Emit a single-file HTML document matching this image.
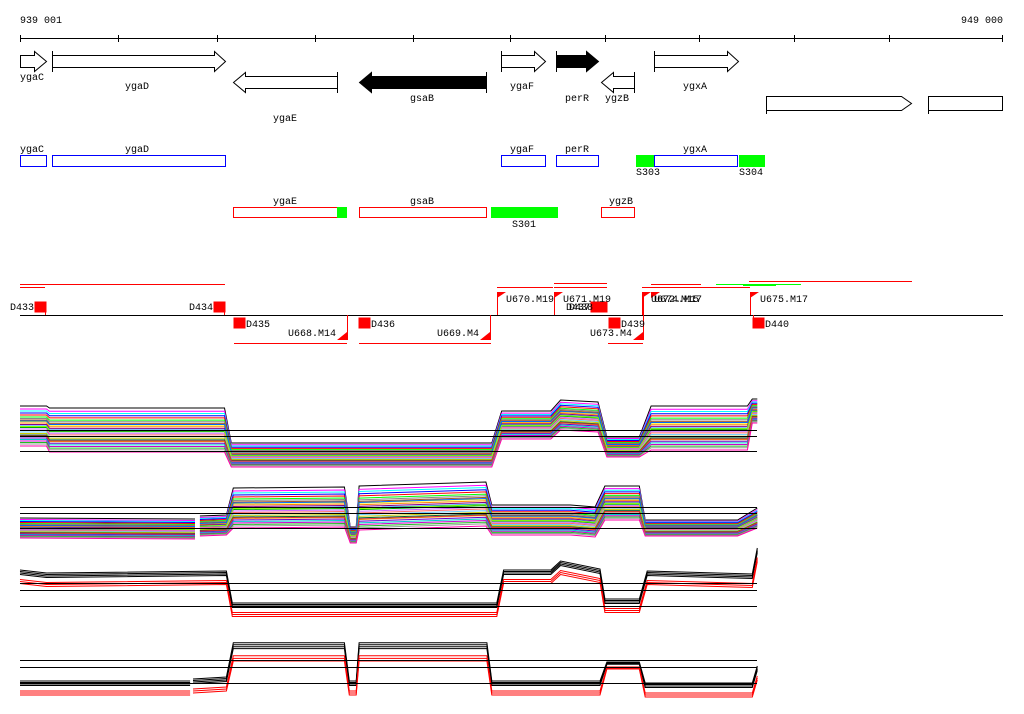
<!DOCTYPE html>
<html><head><meta charset="utf-8"><style>
html,body{margin:0;padding:0;background:#fff;}
svg{display:block;font-family:"Liberation Mono",monospace;font-size:10px;}
</style></head><body>
<svg id="main" width="1024" height="714" viewBox="0 0 1024 714">
<g stroke="#000" stroke-width="1">
<text x="20" y="23" stroke="none">939 001</text>
<text x="1003" y="23" stroke="none" text-anchor="end">949 000</text>
<line x1="20" y1="38.5" x2="1003" y2="38.5"/>
<path d="M20.5 35v7M118.5 35v7M217.5 35v7M315.5 35v7M413.5 35v7M510.5 35v7M605.5 35v7M699.5 35v7M794.5 35v7M889.5 35v7M1002.5 35v7"/>
</g>
<g stroke="#000" stroke-width="1" fill="#fff">
<path d="M20.5 55.5h14v-4l12 10l-12 10v-4h-14z"/>
<path d="M52.5 55.5h162v-4l11 10l-11 10v-4h-162zM52.5 51v21"/>
<path d="M501.5 55.5h33v-4l11 10l-11 10v-4h-33zM501.5 51v21"/>
<path fill="#000" d="M556.5 55.5h30v-4l12 10l-12 10v-4h-30zM556.5 51v21"/>
<path d="M654.5 55.5h73v-4l11 10l-11 10v-4h-73zM654.5 51v21"/>
<path d="M337.5 76.5h-92v-4l-12 10l12 10v-4h92zM337.5 72v21"/>
<path fill="#000" d="M486.5 76.5h-115v-4l-12 10l12 10v-4h115zM486.5 72v21"/>
<path d="M634.5 76.5h-21v-4l-12 10l12 10v-4h21zM634.5 72v21"/>
<path d="M766.5 96.5h135l10 7l-10 7h-135zM766.5 96v18"/>
<path d="M928.5 96.5h74v14h-74zM928.5 96v18"/>
</g>
<g>
<text x="20" y="80">ygaC</text><text x="125" y="89">ygaD</text><text x="273" y="121">ygaE</text>
<text x="410" y="101">gsaB</text><text x="510" y="89">ygaF</text><text x="565" y="101">perR</text>
<text x="605" y="101">ygzB</text><text x="683" y="89">ygxA</text>
</g>
<g stroke-width="1">
<g fill="none" stroke="#00f">
<rect x="20.5" y="155.5" width="26" height="11"/>
<rect x="52.5" y="155.5" width="173" height="11"/>
<rect x="501.5" y="155.5" width="44" height="11"/>
<rect x="556.5" y="155.5" width="42" height="11"/>
<rect x="654.5" y="155.5" width="83" height="11"/>
</g>
<rect x="636" y="155" width="18" height="12" fill="#0f0"/>
<rect x="739" y="155" width="26" height="12" fill="#0f0"/>
<text x="20" y="152">ygaC</text><text x="125" y="152">ygaD</text><text x="510" y="152">ygaF</text>
<text x="565" y="152">perR</text><text x="683" y="152">ygxA</text>
<text x="636" y="175">S303</text><text x="739" y="175">S304</text>
<g fill="none" stroke="#f00">
<rect x="233.5" y="207.5" width="104" height="10"/>
<rect x="359.5" y="207.5" width="127" height="10"/>
<rect x="601.5" y="207.5" width="33" height="10"/>
</g>
<rect x="337" y="207" width="10" height="11" fill="#0f0"/>
<rect x="491" y="207" width="67" height="11" fill="#0f0"/>
<text x="273" y="204">ygaE</text><text x="410" y="204">gsaB</text><text x="609" y="204">ygzB</text>
<text x="512" y="227">S301</text>
</g>
<g>
<path stroke="#f00" fill="none" d="M20 284.5h205M20 287.5h25M497 287.5h56M554 283.5h53M554 287.5h53M642 287.5h108M651 284.5h50M749 281.5h163M234 343.5h113M359 343.5h132M608 343.5h35"/>
<path stroke="#0f0" fill="none" d="M716 284.5h85M743 285.5h33"/>
<line x1="20" y1="315.5" x2="1003" y2="315.5" stroke="#000"/>
<g fill="#f00" stroke="#f00">
<rect x="35" y="302" width="11" height="10"/>
<rect x="214" y="302" width="11" height="10"/>
<rect x="234" y="318" width="11" height="10"/>
<rect x="359" y="318" width="11" height="10"/>
<rect x="591" y="302" width="16" height="10"/>
<rect x="609" y="318" width="11" height="10"/>
<rect x="753" y="318" width="11" height="10"/>
<path d="M45.5 302v13M224.5 302v13M347.5 315v25M490.5 315v25M497.5 292v23M554.5 292v23M643.5 292v48M642.5 292v23M750.5 292v23M753.5 315v5" fill="none"/>
<path d="M337 340h10v-8zM480 340h10v-8zM633 340h10v-8zM497 292h9l-9 6zM554 292h9l-9 6zM642 292h9l-9 6zM651 292h9l-9 6zM750 292h9l-9 6z" stroke="none"/>
</g>
<g fill="#000">
<text x="34" y="310" text-anchor="end">D433</text><text x="213" y="310" text-anchor="end">D434</text>
<text x="246" y="327">D435</text><text x="336" y="336" text-anchor="end">U668.M14</text>
<text x="371" y="327">D436</text><text x="479" y="336" text-anchor="end">U669.M4</text>
<text x="506" y="302">U670.M19</text><text x="563" y="302">U671.M19</text>
<text x="566" y="310">D437</text><text x="569" y="310">D438</text>
<text x="621" y="327">D439</text><text x="632" y="336" text-anchor="end">U673.M4</text>
<text x="651" y="302">U672.M15</text><text x="654" y="302">U674.M17</text>
<text x="760" y="302">U675.M17</text><text x="765" y="327">D440</text>
</g>
</g>
<g id="charts"></g>
</svg>
<script>
// positions in kb from left (939 001), levels in log-units, spread = per-point dispersion factor
const p1Pos = [0,0.27,0.3,2.08,2.15,4.8,4.9,5.4,5.5,5.88,5.97,6.3,6.42,7.4,7.45,7.5];
const p1Val = [2.5,2.5,2.1,2.1,-0.4,-0.4,2.6,2.6,3.6,3.4,0.4,0.4,2.3,2.3,4.0,4.0];
const p1Spr = [1.0,1.0,1.1,1.1,0.6,0.6,0.7,0.7,0.75,0.75,0.5,0.5,1.1,1.1,0.6,0.6];
const p2Pos = [0,1.78,null,1.83,2.1,2.17,3.3,3.36,3.42,3.45,4.74,4.8,5.6,5.85,5.95,6.3,6.36,7.3,7.5];
const p2Val = [0.0,-0.1,null,0.2,0.3,2.0,2.1,-0.7,-0.7,2.0,2.4,0.8,0.8,0.6,2.5,2.5,0.0,0.0,1.0];
const p2Spr = [0.5,0.5,null,0.5,0.5,1.0,1.0,0.4,0.4,1.1,1.1,0.75,0.75,0.75,0.85,0.85,0.4,0.4,0.5];
const p3Pos = [0,0.27,2.1,2.16,4.85,4.92,5.4,5.5,5.9,5.95,6.3,6.38,7.45,7.5];
const p3Val = [3.0,2.7,2.9,-0.3,-0.3,3.0,3.0,3.9,3.1,0.1,0.1,2.9,2.6,5.2];
const p3Spr = [1,1,1,1,1,1,1,1,1,1,1,1,1,1];
const p4Pos = [0,1.73,null,1.76,2.1,2.17,3.3,3.35,3.42,3.45,4.75,4.8,5.9,5.97,6.3,6.36,7.45,7.5];
const p4Val = [-0.2,-0.2,null,0.0,0.2,3.5,3.5,-0.2,-0.2,3.5,3.5,-0.2,-0.2,1.9,1.9,-0.4,-0.4,1.3];
const p4Spr = [1,1,null,1,1,1.3,1.3,1,1,1.3,1.3,1,1,0.5,0.5,1,1,1];
const multiColors = ["#000","#f0f","#0ff","#00f","#f00","#0f0","#888","#a52","#ff0","#f80","#808","#08f","#0a0","#c6f","#f66","#6cf","#cc0","#063","#fa0","#60c","#0cc","#c0c","#2b2","#999","#f0a","#8f0","#06f","#d33"];
const multiOffsets = [2.0,1.7,1.5,1.3,1.1,0.9,0.75,0.6,0.45,0.3,0.15,0.0,-0.15,-0.3,-0.45,-0.6,-0.75,-0.9,-1.05,-1.2,-1.35,-1.5,-1.65,-1.8,-2.0,-0.05,0.5,-1.0];
const pairColors = ["#000","#000","#000","#000","#f00","#f00","#f00"];
const p3Offsets = [0.6,0.45,0.3,0.15,-0.35,-0.55,-0.75];
const p4Offsets = [0.4,0.25,0.1,-0.05,-0.6,-0.8,-1.0];
const panels = [
 {name:"panel-1",pos:p1Pos,val:p1Val,spr:p1Spr,base:451,lines:[0,1.5,2.1],colors:multiColors,offs:multiOffsets},
 {name:"panel-2",pos:p2Pos,val:p2Val,spr:p2Spr,base:528,lines:[0,1.5,2.1],colors:multiColors,offs:multiOffsets},
 {name:"panel-3",pos:p3Pos,val:p3Val,spr:p3Spr,base:606,lines:[0,1.6,2.3],colors:pairColors,offs:p3Offsets},
 {name:"panel-4",pos:p4Pos,val:p4Val,spr:p4Spr,base:683,lines:[0,1.6,2.3],colors:pairColors,offs:p4Offsets}
];
const NS="http://www.w3.org/2000/svg";
const xS = kb => 20 + kb*98.3;
const yS = (v,base) => base - v*10;
const root=document.getElementById('charts');
panels.forEach(p=>{
  const g=document.createElementNS(NS,'g');
  
  
  root.appendChild(g);
  p.colors.forEach((c,i)=>{
    let d="",start=true;
    for(let k=0;k<p.pos.length;k++){
      if(p.pos[k]===null){start=true;continue;}
      const x=xS(p.pos[k]).toFixed(1), y=yS(p.val[k]+p.offs[i]*p.spr[k],p.base).toFixed(1);
      d+=(start?"M":"L")+x+" "+y+" ";start=false;
    }
    const path=document.createElementNS(NS,'path');
    path.setAttribute('d',d);path.setAttribute('fill','none');
    path.setAttribute('stroke',c);path.setAttribute('stroke-width','1');
    
    
    g.appendChild(path);
  });
  p.lines.forEach(v=>{
    const l=document.createElementNS(NS,'line');
    const y=Math.round(yS(v,p.base))+0.5;
    l.setAttribute('x1',20);l.setAttribute('x2',757);l.setAttribute('y1',y);l.setAttribute('y2',y);
    l.setAttribute('stroke','#000');
    
    
    g.appendChild(l);
  });
});
</script>
</body></html>
